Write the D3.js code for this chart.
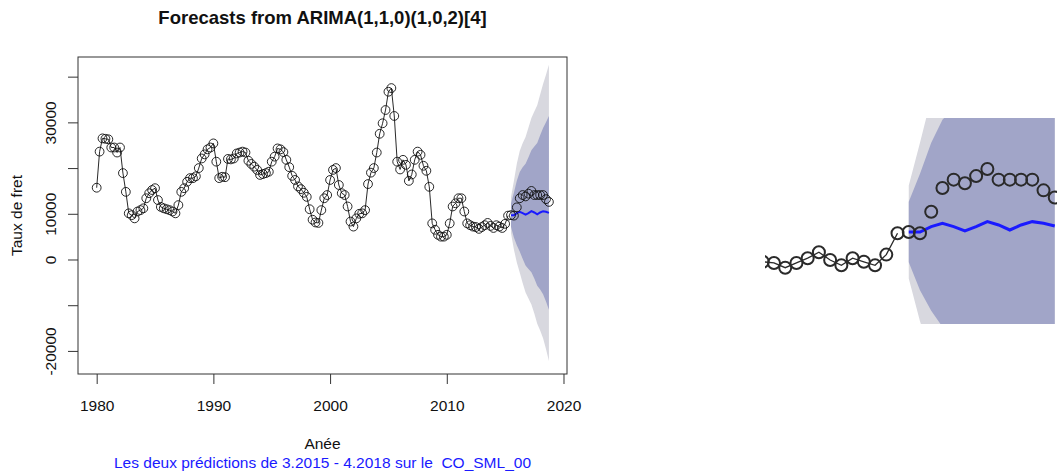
<!DOCTYPE html>
<html>
<head>
<meta charset="utf-8">
<script src="https://cdn.jsdelivr.net/npm/d3@7"></script>
<style>
  body { margin: 0; background: #fff; }
  text { font-family: "Liberation Sans", Arial, Helvetica, sans-serif; white-space: pre; }
</style>
</head>
<body>
<svg id="chart" width="1057" height="473"></svg>
<script>
// quarterly freight rate, 1980 Q1 .. 2015 Q2 (training part, drawn with line + circles)
const histStart = 1980;
const history = [
  15700, 23600, 26500, 26400,
  26300, 24500, 24500, 23400,
  24500, 18900, 14800, 10100,
  9700, 9000, 10500, 10800,
  11200, 13400, 14500, 15200,
  15600, 13000, 11500, 11200,
  11000, 10800, 10500, 10100,
  11900, 14800, 15600, 17000,
  17800, 17800, 18200, 20000,
  22100, 23000, 24100, 24500,
  25400, 21400, 17800, 18100,
  18000, 22000, 21900, 22100,
  23200, 23400, 23600, 23400,
  21600, 20900, 20300, 19600,
  18500, 18700, 18900, 19200,
  21400, 22500, 24300, 24100,
  23500, 21800, 20200, 18300,
  17400, 16000, 15400, 14600,
  13700, 11000, 8700, 8100,
  8000, 10800, 13400, 14100,
  17400, 19600, 20000, 16300,
  14500, 14100, 11600, 8300,
  7200, 9000, 10000, 10100,
  10800, 16500, 19000, 20000,
  23400, 27500, 29800, 32700,
  36700, 37500, 31400, 21400,
  19700, 21800, 20700, 17200,
  18600, 21800, 23600, 22900,
  20500, 19400, 15900, 7900,
  6500, 5400, 5000, 5000,
  5400, 7900, 11600, 12300,
  13400, 13400, 10500, 7900,
  7500, 7200, 7100, 6700,
  7100, 7500, 8000, 7350,
  6900, 7500, 7200, 6900,
  7800, 9600
];

// forecast horizon 2015 Q3 .. 2018 Q4
const fcStart = 2015.5;
const actual = [9700, 9600, 11400, 13400, 14100, 13800, 14400, 15000, 14100, 14100, 14100, 14100, 13200, 12600];
const fcMean = [9700, 9700, 10150, 10430, 10150, 9800, 10150, 10570, 10290, 9870, 10290, 10570, 10430, 10200];
const hi80 = [12250, 14600, 17210, 19130, 20160, 20920, 22380, 23910, 24740, 25500, 27160, 28750, 30050, 31390];
const lo80 = [7150, 4800, 3090, 1730, 140, -1320, -2080, -2770, -4160, -5760, -6580, -7610, -9190, -10990];
const hi95 = [13600, 17200, 20950, 23730, 25450, 26800, 28850, 30970, 32390, 33770, 36090, 38370, 40430, 42600];
const lo95 = [5800, 2200, -650, -2870, -5150, -7200, -8550, -9830, -11810, -14030, -15510, -17230, -19570, -22200];

const xTicks = [1980, 1990, 2000, 2010, 2020];
const yTicks = [-20000, -10000, 0, 10000, 20000, 30000, 40000];
const yTickLabels = ["-20000", "", "0", "10000", "", "30000", ""];

const titleText = "Forecasts from ARIMA(1,1,0)(1,0,2)[4]";
const xLabel = "Anée";
const yLabel = "Taux de fret";
const subText = "Les deux prédictions de 3.2015 - 4.2018 sur le  CO_SML_00";

const col95 = "#d8d8df";
const col80 = "#a1a5c8";
const colMean = "#1a1aff";

const svg = d3.select("#chart");

const histPts = history.map((v, i) => ({ t: histStart + i / 4, v }));
const actualPts = actual.map((v, i) => ({ t: fcStart + i / 4, v }));
const fcPts = fcMean.map((v, i) => ({
  t: fcStart + i / 4, v,
  lo80: lo80[i], hi80: hi80[i], lo95: lo95[i], hi95: hi95[i]
}));

function drawPanel(g, x, y, opt) {
  let area95 = d3.area().x(d => x(d.t)).y0(d => y(d.lo95)).y1(d => y(d.hi95));
  let area80 = d3.area().x(d => x(d.t)).y0(d => y(d.lo80)).y1(d => y(d.hi80));
  let line = d3.line().x(d => x(d.t)).y(d => y(d.v));

  g.append("path").datum(histPts)
    .attr("d", line)
    .attr("fill", "none")
    .attr("stroke", opt.ink)
    .attr("stroke-width", opt.lineWidth);

  g.selectAll("circle.hist")
    .data(histPts)
    .join("circle")
    .classed("hist", true)
    .attr("cx", d => x(d.t))
    .attr("cy", d => y(d.v))
    .attr("r", opt.r)
    .attr("fill", "none")
    .attr("stroke", opt.ink)
    .attr("stroke-width", opt.circleWidth);

  g.append("path").datum(fcPts).attr("d", area95).attr("fill", col95);
  g.append("path").datum(fcPts).attr("d", area80).attr("fill", col80);

  g.append("path").datum(fcPts)
    .attr("d", line)
    .attr("fill", "none")
    .attr("stroke", colMean)
    .attr("stroke-width", opt.meanWidth);

  g.selectAll("circle.test")
    .data(actualPts)
    .join("circle")
    .classed("test", true)
    .attr("cx", d => x(d.t))
    .attr("cy", d => y(d.v))
    .attr("r", opt.r)
    .attr("fill", "none")
    .attr("stroke", opt.ink)
    .attr("stroke-width", opt.circleWidth);
}

// main plot
const box = { left: 78, right: 567, top: 57, bottom: 374 };
const x = d3.scaleLinear().domain([1978.4, 2020.3]).range([box.left, box.right]);
const y = d3.scaleLinear().domain([-25050, 44300]).range([box.bottom, box.top]);

svg.append("defs").append("clipPath").attr("id", "main-clip")
  .append("rect")
  .attr("x", box.left).attr("y", box.top)
  .attr("width", box.right - box.left).attr("height", box.bottom - box.top);

drawPanel(svg.append("g").attr("clip-path", "url(#main-clip)"), x, y,
  { ink: "#111", r: 4.4, lineWidth: 0.9, circleWidth: 0.9, meanWidth: 2 });

svg.append("rect")
  .attr("x", box.left).attr("y", box.top)
  .attr("width", box.right - box.left).attr("height", box.bottom - box.top)
  .attr("fill", "none").attr("stroke", "#333").attr("stroke-width", 1);

let xAxis = svg.append("g")
  .attr("transform", `translate(0,${box.bottom})`)
  .call(d3.axisBottom(x).tickValues(xTicks).tickFormat(d3.format("d")).tickSize(10).tickPadding(16));
xAxis.select(".domain").remove();
xAxis.selectAll("line").attr("stroke", "#333");
xAxis.selectAll("text").attr("font-size", 15.5).attr("fill", "#111").attr("font-family", null);

let yAxis = svg.append("g")
  .attr("transform", `translate(${box.left},0)`)
  .call(d3.axisLeft(y).tickValues(yTicks).tickFormat((d, i) => yTickLabels[i]).tickSize(10));
yAxis.select(".domain").remove();
yAxis.selectAll("line").attr("stroke", "#333");
yAxis.selectAll("text")
  .attr("font-size", 15.5).attr("fill", "#111").attr("font-family", null)
  .attr("transform", "rotate(-90)")
  .attr("x", 0).attr("y", -22).attr("dy", null)
  .attr("text-anchor", "middle");

svg.append("text")
  .attr("x", (box.left + box.right) / 2).attr("y", 24)
  .attr("text-anchor", "middle")
  .attr("font-size", 18.5).attr("font-weight", "bold").attr("fill", "#111")
  .text(titleText);

svg.append("text")
  .attr("x", (box.left + box.right) / 2).attr("y", 449)
  .attr("text-anchor", "middle")
  .attr("font-size", 15.5).attr("fill", "#111")
  .text(xLabel);

svg.append("text")
  .attr("x", (box.left + box.right) / 2).attr("y", 468)
  .attr("text-anchor", "middle")
  .attr("font-size", 15.5).attr("fill", "#1a1aff")
  .text(subText);

svg.append("text")
  .attr("transform", `translate(22,${(box.top + box.bottom) / 2}) rotate(-90)`)
  .attr("text-anchor", "middle")
  .attr("font-size", 15.5).attr("fill", "#111")
  .text(yLabel);

// zoomed inset of the forecast period
const inset = { left: 765, right: 1057, top: 118, bottom: 324 };
const xi = d3.scaleLinear().domain([2012.3, 2018.8]).range([inset.left, inset.right]);
const yi = d3.scaleLinear().domain([1970, 19280]).range([inset.bottom, inset.top]);

svg.select("defs").append("clipPath").attr("id", "inset-clip")
  .append("rect")
  .attr("x", inset.left).attr("y", inset.top)
  .attr("width", inset.right - inset.left).attr("height", inset.bottom - inset.top);

drawPanel(svg.append("g").attr("clip-path", "url(#inset-clip)"), xi, yi,
  { ink: "#2a2a2a", r: 6, lineWidth: 1.3, circleWidth: 2, meanWidth: 3 });
</script>
</body>
</html>
